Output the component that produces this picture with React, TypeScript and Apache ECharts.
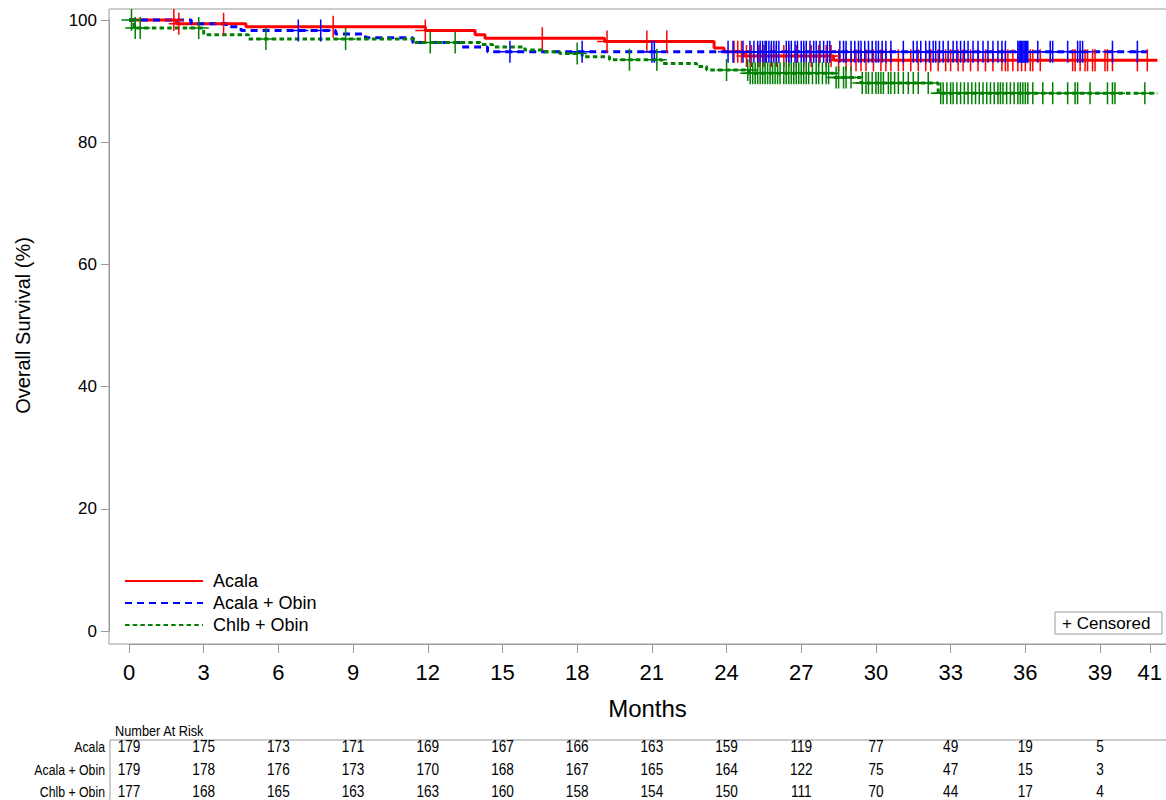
import React, { useEffect, useRef } from "react";
import * as echarts from "echarts";

const groupNames = ["Acala", "Acala + Obin", "Chlb + Obin"];
const groupColors = ["#ff0000", "#0000ff", "#008000"];

// Acala (red, solid)
const acalaTimes = [0, 1.9, 4.7, 11.9, 13.9, 14.3, 19.1, 23.5, 23.9, 24.7, 28.3];
const acalaSurv = [100, 99.4, 98.9, 98.3, 97.6, 97.0, 96.5, 95.4, 94.8, 94.1, 93.4];
const acalaLastFollowUp = 41.3;
const acalaCensored = [
  1.8, 2.0, 3.8, 8.2, 11.9, 16.6, 19.2, 20.8, 21.6, 24.3, 24.45, 24.6, 24.8, 25.0, 25.3, 25.5,
  25.8, 26.0, 26.3, 26.5, 26.8, 27.1, 27.4, 27.7, 28.0, 28.2, 28.5, 28.8, 29.0, 29.2, 29.4, 29.6,
  29.9, 30.2, 30.4, 30.6, 30.9, 31.1, 31.4, 31.7, 32.0, 32.2, 32.5, 32.8, 33.0, 33.3, 33.5, 33.8,
  34.1, 34.4, 34.7, 35.06, 35.2, 35.3, 35.5, 35.7, 35.85, 36.0, 36.2, 36.3, 36.6, 37.9, 38.0, 38.2,
  38.4, 38.5, 38.7, 38.8, 39.2, 39.3, 39.5, 40.5, 40.9,
];

// Acala + Obin (blue, dashed)
const acalaObinTimes = [0, 2.5, 3.9, 4.5, 8.3, 9.5, 11.4, 13.3, 14.4];
const acalaObinSurv = [100, 99.4, 98.9, 98.3, 97.7, 97.1, 96.3, 95.6, 94.8];
const acalaObinLastFollowUp = 40.9;
const acalaObinCensored = [
  6.8, 7.7, 15.3, 18.2, 21.0, 21.1, 24.06, 24.26, 24.66, 24.94, 25.1, 25.25, 25.35, 25.45, 25.55,
  25.6, 25.7, 25.8, 25.9, 26.0, 26.1, 26.4, 26.5, 26.6, 26.75, 26.85, 27.0, 27.1, 27.2, 27.35, 27.5,
  27.6, 27.75, 27.9, 28.05, 28.15, 28.55, 28.7, 28.8, 29.0, 29.15, 29.3, 29.4, 29.55, 29.7, 29.85,
  30.0, 30.1, 30.25, 30.4, 30.6, 31.1, 31.5, 31.65, 31.8, 32.0, 32.15, 32.3, 32.4, 32.55, 32.7,
  32.9, 33.1, 33.25, 33.4, 33.55, 33.7, 33.9, 34.1, 34.3, 34.5, 34.7, 34.9, 35.06, 35.2, 35.7,
  35.75, 35.8, 35.85, 35.9, 35.95, 36.0, 36.05, 36.1, 36.5, 37.0, 37.1, 37.7, 38.1, 38.2, 38.3,
  39.5, 40.5,
];

// Chlb + Obin (green, dotted)
const chlbObinTimes = [0, 0.2, 3.0, 4.8, 11.5, 14.1, 14.6, 15.9, 16.6, 17.3, 18.2, 19.3, 21.4, 22.8, 23.2, 24.9, 28.3, 29.4, 32.5];
const chlbObinSurv = [100, 98.7, 97.6, 96.9, 96.3, 96.0, 95.6, 95.1, 94.8, 94.5, 94.0, 93.5, 92.9, 92.4, 91.8, 91.3, 90.6, 89.7, 88.0];
const chlbObinLastFollowUp = 41.3;
const chlbObinCensored = [
  0.1, 0.25, 0.45, 2.8, 5.5, 8.7, 12.1, 13.1, 18.0, 20.1, 21.2, 24.0, 24.85, 24.95, 25.05, 25.15,
  25.25, 25.35, 25.45, 25.55, 25.65, 25.75, 25.85, 25.95, 26.05, 26.15, 26.3, 26.4, 26.5, 26.6,
  26.7, 26.8, 26.9, 27.0, 27.1, 27.2, 27.3, 27.45, 27.6, 27.7, 27.85, 28.0, 28.1, 28.4, 28.5,
  28.7, 28.8, 29.0, 29.45, 29.6, 29.7, 29.85, 30.0, 30.1, 30.2, 30.3, 30.5, 30.6, 30.75, 30.9,
  31.1, 31.3, 31.5, 31.7, 32.1, 32.6, 32.7, 32.85, 33.0, 33.1, 33.25, 33.4, 33.55, 33.7, 33.85,
  34.0, 34.15, 34.3, 34.45, 34.6, 34.75, 34.9, 35.0, 35.1, 35.25, 35.4, 35.55, 35.7, 35.8, 35.9,
  36.0, 36.1, 36.3, 36.7, 37.1, 37.7, 38.0, 38.1, 38.6, 39.3, 39.5, 39.6, 40.8,
];

const xTickValues = [0, 3, 6, 9, 12, 15, 18, 21, 24, 27, 30, 33, 36, 39, 41];
const yTickInterval = 20;

const riskTimes = [0, 3, 6, 9, 12, 15, 18, 21, 24, 27, 30, 33, 36, 39];
const riskAcala = [179, 175, 173, 171, 169, 167, 166, 163, 159, 119, 77, 49, 19, 5];
const riskAcalaObin = [179, 178, 176, 173, 170, 168, 167, 165, 164, 122, 75, 47, 15, 3];
const riskChlbObin = [177, 168, 165, 163, 163, 160, 158, 154, 150, 111, 70, 44, 17, 4];

const SANS = '"Liberation Sans", Arial, sans-serif';

const PLUS =
  "path://M-0.75,-11 L0.75,-11 L0.75,-0.75 L10,-0.75 L10,0.75 L0.75,0.75 L0.75,11 L-0.75,11 L-0.75,0.75 L-10,0.75 L-10,-0.75 L-0.75,-0.75 Z";

function stepLine(times: number[], surv: number[], last: number) {
  const pts = times.map((t, i) => [t, surv[i]]);
  pts.push([last, surv[surv.length - 1]]);
  return pts;
}

function survAt(times: number[], surv: number[], t: number) {
  let v = surv[0];
  for (let i = 0; i < times.length; i++) {
    if (times[i] <= t) v = surv[i];
  }
  return v;
}

const groups = [
  { times: acalaTimes, surv: acalaSurv, last: acalaLastFollowUp, cens: acalaCensored, dash: "solid" as any },
  { times: acalaObinTimes, surv: acalaObinSurv, last: acalaObinLastFollowUp, cens: acalaObinCensored, dash: [7, 5] },
  { times: chlbObinTimes, surv: chlbObinSurv, last: chlbObinLastFollowUp, cens: chlbObinCensored, dash: [4.5, 3.2] },
];

export default function App() {
  const ref = useRef<HTMLDivElement>(null);

  useEffect(() => {
    document.body.style.margin = "0";
    const chart = echarts.init(ref.current as HTMLDivElement, null, { renderer: "svg" });

    const lineSeries = groups.map((g, i) => ({
      name: groupNames[i],
      type: "line",
      step: "end",
      symbol: "none",
      clip: false,
      data: stepLine(g.times, g.surv, g.last),
      lineStyle: { color: groupColors[i], width: 3, type: g.dash },
      itemStyle: { color: groupColors[i] },
      z: 2,
    }));
    const censSeries = groups.map((g, i) => ({
      name: "censored-" + groupNames[i],
      type: "scatter",
      symbol: PLUS,
      symbolSize: [20, 22],
      symbolKeepAspect: false,
      clip: false,
      data: g.cens.map((c) => [c, survAt(g.times, g.surv, c)]),
      itemStyle: { color: groupColors[i], opacity: 1 },
      z: 3,
    }));

    chart.setOption({
      animation: false,
      backgroundColor: "#ffffff",
      grid: { left: 129, top: 20, width: 1037, height: 611, containLabel: false },
      xAxis: {
        type: "value",
        min: 0,
        max: 41.65,
        offset: 13,
        axisLine: { show: true, onZero: false, lineStyle: { color: "#9a9a9a", width: 1 } },
        axisTick: { show: true, length: 9, lineStyle: { color: "#9a9a9a" }, customValues: xTickValues },
        axisLabel: { customValues: xTickValues, color: "#000", fontSize: 22, fontFamily: SANS, margin: 17 },
        splitLine: { show: false },
        name: "Months",
        nameLocation: "middle",
        nameGap: 52,
        nameTextStyle: { color: "#000", fontSize: 24, fontFamily: SANS },
      },
      yAxis: {
        type: "value",
        min: 0,
        max: 100,
        interval: yTickInterval,
        offset: 20,
        axisLine: { show: true, onZero: false, lineStyle: { color: "#9a9a9a", width: 1 } },
        axisTick: { show: true, length: 8, lineStyle: { color: "#9a9a9a" } },
        axisLabel: { color: "#000", fontSize: 17, fontFamily: SANS, margin: 12 },
        splitLine: { show: false },
        name: "Overall Survival (%)",
        nameLocation: "middle",
        nameGap: 76,
        nameTextStyle: { color: "#000", fontSize: 20, fontFamily: SANS },
      },
      legend: {
        data: groupNames,
        orient: "vertical",
        left: 119,
        top: 567,
        itemWidth: 78,
        itemHeight: 14,
        itemGap: 4,
        itemStyle: { opacity: 0, borderWidth: 0 },
        textStyle: { color: "#000", fontSize: 18, fontFamily: SANS, padding: [0, 0, 0, 5] },
        selectedMode: false,
      },
      series: [...lineSeries, ...censSeries],
    });

    const xs = riskTimes.map((t) => chart.convertToPixel({ xAxisIndex: 0 }, t) as number);
    const rows = [riskAcala, riskAcalaObin, riskChlbObin];
    const rowY = [747, 770, 792];
    const tableTexts: any[] = [];
    rows.forEach((row, r) => {
      tableTexts.push({
        type: "text",
        x: 105,
        y: rowY[r],
        scaleX: 0.82,
        style: { text: groupNames[r], fill: "#000", font: `15px ${SANS}`, align: "right", verticalAlign: "middle" },
      });
      row.forEach((v, k) => {
        tableTexts.push({
          type: "text",
          x: xs[k],
          y: rowY[r],
          scaleX: 0.85,
          style: { text: String(v), fill: "#000", font: `16px ${SANS}`, align: "center", verticalAlign: "middle" },
        });
      });
    });

    chart.setOption({
      graphic: [
        {
          type: "rect",
          shape: { x: 109, y: 9, width: 1070, height: 635 },
          style: { fill: "none", stroke: "#9a9a9a", lineWidth: 1 },
          silent: true,
          z: 0,
        },
        {
          type: "rect",
          shape: { x: 1055, y: 612, width: 107, height: 22 },
          style: { fill: "#fff", stroke: "#9a9a9a", lineWidth: 1 },
          z: 10,
        },
        {
          type: "text",
          x: 1062,
          y: 623,
          style: { text: "+ Censored", fill: "#000", font: `17px ${SANS}`, verticalAlign: "middle" },
          z: 11,
        },
        {
          type: "text",
          x: 115,
          y: 731,
          scaleX: 0.85,
          style: { text: "Number At Risk", fill: "#000", font: `15px ${SANS}`, verticalAlign: "middle" },
        },
        {
          type: "line",
          shape: { x1: 110, y1: 740, x2: 1166, y2: 740 },
          style: { stroke: "#9a9a9a", lineWidth: 1 },
        },
        {
          type: "line",
          shape: { x1: 110, y1: 740, x2: 110, y2: 800 },
          style: { stroke: "#9a9a9a", lineWidth: 1 },
        },
        ...tableTexts,
      ],
    });

    return () => chart.dispose();
  }, []);

  return <div ref={ref} style={{ width: 1166, height: 800 }} />;
}
